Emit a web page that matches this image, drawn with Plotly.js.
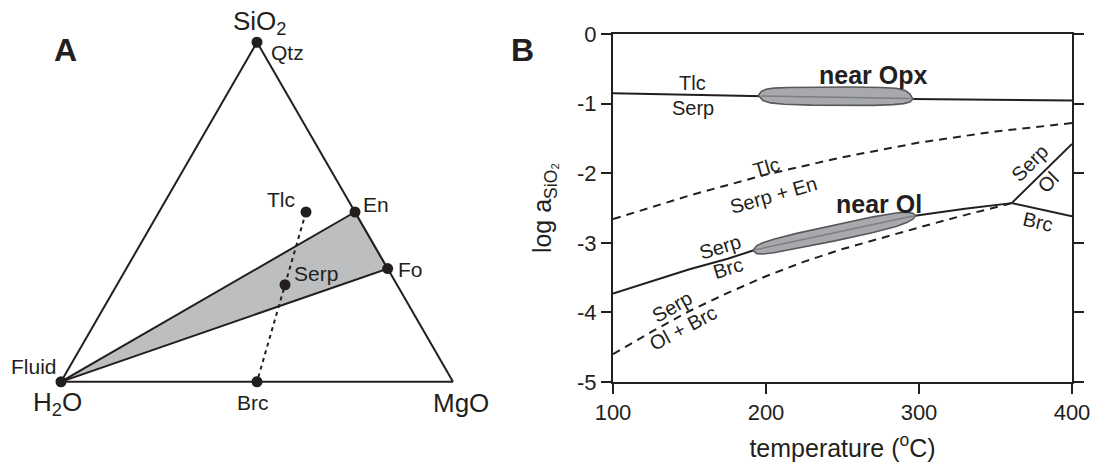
<!DOCTYPE html>
<html>
<head>
<meta charset="utf-8">
<script src="https://cdn.plot.ly/plotly-3.0.1.min.js"></script>
<style>
html,body{margin:0;padding:0;background:#ffffff;}
#chart{width:1099px;height:474px;}
</style>
</head>
<body>
<div id="chart"></div>
<script>
// ---------------- Panel A : ternary compositions (mole fractions) ----------------
const phaseNames = ['Qtz', 'En', 'Fo', 'Tlc', 'Serp', 'Brc', 'Fluid'];
const phaseSiO2  = [1, 0.5, 0.3333, 0.5, 0.2857, 0, 0];
const phaseH2O   = [0, 0, 0, 0.125, 0.2857, 0.5, 1];
const phaseMgO   = [0, 0.5, 0.6667, 0.375, 0.4286, 0.5, 0];
const fieldPhases   = ['Fluid', 'En', 'Fo'];
const tieLinePhases = ['Tlc', 'Serp', 'Brc'];
const vertexTitles  = ['SiO<sub>2</sub>', 'H<sub>2</sub>O', 'MgO'];

// ---------------- Panel B : log aSiO2 vs temperature ----------------
const tempTicks = [100, 200, 300, 400];
const logATicks = [0, -1, -2, -3, -4, -5];

// Tlc / Serp (solid)
const tlcSerpT    = [100, 195, 295, 400];
const tlcSerpLogA = [-0.85, -0.89, -0.935, -0.955];
// Tlc / Serp + En (dashed)
const tlcSerpEnT    = [100, 150, 200, 250, 300, 350, 400];
const tlcSerpEnLogA = [-2.66, -2.32, -2.02, -1.77, -1.56, -1.40, -1.28];
// Serp / Brc (solid)
const serpBrcT    = [100, 125, 150, 175, 191.5, 297.4, 330, 360.6];
const serpBrcLogA = [-3.73, -3.55, -3.38, -3.23, -3.11, -2.61, -2.51, -2.43];
// Serp / Ol + Brc (dashed)
const serpOlBrcT    = [100, 125, 150, 175, 200, 225, 250, 275, 300, 325, 350, 360.6];
const serpOlBrcLogA = [-4.60, -4.28, -3.98, -3.72, -3.48, -3.27, -3.09, -2.93, -2.78, -2.63, -2.49, -2.43];
// Serp / Ol (solid)
const serpOlT    = [360.6, 400];
const serpOlLogA = [-2.43, -1.58];
// Ol / Brc (solid)
const olBrcT    = [360.6, 400];
const olBrcLogA = [-2.43, -2.62];

// "near Opx" field outline and axis
const opxFieldT    = [195, 197, 200, 205, 215, 235, 255, 275, 285, 291, 294, 296, 294, 290, 283, 270, 250, 230, 212, 203, 198, 195];
const opxFieldLogA = [-0.88, -0.825, -0.795, -0.778, -0.768, -0.762, -0.762, -0.768, -0.78, -0.81, -0.86, -0.935, -0.978, -1.0, -1.015, -1.025, -1.028, -1.022, -1.01, -0.99, -0.955, -0.88];
const opxAxisT    = [197, 294];
const opxAxisLogA = [-0.89, -0.925];

// "near Ol" field outline and axis
const olFieldT    = [191.5, 194, 198, 205, 220, 245, 270, 285, 292, 296, 297.8, 296, 292, 285, 270, 245, 220, 205, 198, 194, 191.5];
const olFieldLogA = [-3.11, -3.04, -2.998, -2.948, -2.865, -2.742, -2.627, -2.572, -2.560, -2.575, -2.61, -2.66, -2.71, -2.765, -2.851, -2.972, -3.085, -3.144, -3.160, -3.156, -3.11];
const olAxisT    = [193, 296];
const olAxisLogA = [-3.10, -2.615];

// Reaction labels (text, temperature, log a, angle, bold)
const rxnLabelText  = ['Tlc', 'Serp', 'Tlc', 'Serp + En', 'Serp', 'Brc', 'Serp', 'Ol + Brc', 'Serp', 'Ol', 'Brc', 'near Opx', 'near Ol'];
const rxnLabelT     = [152, 152, 200.5, 205, 170, 175.4, 138.3, 146, 372.5, 384.5, 378, 270, 274];
const rxnLabelLogA  = [-0.70, -1.07, -1.91, -2.32, -3.06, -3.36, -3.92, -4.23, -1.86, -2.125, -2.70, -0.59, -2.44];
const rxnLabelAngle = [0, 0, -16, -16, -17, -17, -30, -28, -45, -45, 13, 0, 0];
const rxnLabelBold  = [false, false, false, false, false, false, false, false, false, false, false, true, true];

// ------------------------------------------------------------------
const INK = '#231f20';
const FONT = 'Liberation Sans, Arial, Helvetica, sans-serif';
const W = 1099, H = 474;
const idx = n => phaseNames.indexOf(n);
const pick = (arr, names) => names.map(n => arr[idx(n)]);

// label placement for panel A (pixel centres on the page)
const phaseLabelPx = {
  'Qtz': [287, 52], 'En': [376, 204], 'Fo': [410, 269], 'Tlc': [281, 199],
  'Serp': [316, 273], 'Brc': [253, 402], 'Fluid': [34, 366]
};
const vertexTitlePx = [[259, 23], [57, 403], [461, 403]];

const traces = [];

// shaded field Fluid-En-Fo
const fp = fieldPhases.concat([fieldPhases[0]]);
traces.push({
  type: 'scatterternary', mode: 'lines',
  a: pick(phaseSiO2, fp), b: pick(phaseH2O, fp), c: pick(phaseMgO, fp),
  fill: 'toself', fillcolor: '#bcbec0',
  line: {color: INK, width: 2}, hoverinfo: 'skip', cliponaxis: false
});
// dotted tie line Tlc-Serp-Brc
traces.push({
  type: 'scatterternary', mode: 'lines',
  a: pick(phaseSiO2, tieLinePhases), b: pick(phaseH2O, tieLinePhases), c: pick(phaseMgO, tieLinePhases),
  line: {color: INK, width: 2, dash: '4px,4px'}, hoverinfo: 'skip'
});
// phase points
traces.push({
  type: 'scatterternary', mode: 'markers',
  a: phaseSiO2, b: phaseH2O, c: phaseMgO,
  text: phaseNames,
  marker: {color: INK, size: 11},
  cliponaxis: false, hoverinfo: 'text'
});

// ---- Panel B traces
function line(x, y, dash, color, width) {
  return {type: 'scatter', mode: 'lines', x: x, y: y, xaxis: 'x', yaxis: 'y',
          line: {color: color || INK, width: width || 2, dash: dash || 'solid'}, hoverinfo: 'skip'};
}
traces.push(line(tlcSerpT, tlcSerpLogA));
traces.push(line(tlcSerpEnT, tlcSerpEnLogA, '8px,6px'));
traces.push(line(serpBrcT, serpBrcLogA));
traces.push(line(serpOlBrcT, serpOlBrcLogA, '8px,6px'));
traces.push(line(serpOlT, serpOlLogA));
traces.push(line(olBrcT, olBrcLogA));
// fields
[[opxFieldT, opxFieldLogA], [olFieldT, olFieldLogA]].forEach(f => {
  traces.push({type: 'scatter', mode: 'lines', x: f[0], y: f[1], xaxis: 'x', yaxis: 'y',
    fill: 'toself', fillcolor: '#a7a9ac', line: {color: '#58595b', width: 1.6}, hoverinfo: 'skip'});
});
traces.push(line(opxAxisT, opxAxisLogA, 'solid', '#7d7e80', 1.5));
traces.push(line(olAxisT, olAxisLogA, 'solid', '#7d7e80', 1.5));

const annotations = rxnLabelText.map((t, i) => ({
  xref: 'x', yref: 'y', x: rxnLabelT[i], y: rxnLabelLogA[i],
  text: rxnLabelBold[i] ? '<b>' + t + '</b>' : t,
  textangle: rxnLabelAngle[i], showarrow: false,
  xanchor: 'center', yanchor: 'middle',
  font: {family: FONT, size: rxnLabelBold[i] ? 25 : 20, color: INK}
}));
phaseNames.forEach(n => {
  const p = phaseLabelPx[n];
  annotations.push({xref: 'paper', yref: 'paper', x: p[0] / W, y: 1 - p[1] / H, text: n,
    showarrow: false, xanchor: 'center', yanchor: 'middle', font: {family: FONT, size: 21, color: INK}});
});
vertexTitles.forEach((t, i) => {
  const p = vertexTitlePx[i];
  annotations.push({xref: 'paper', yref: 'paper', x: p[0] / W, y: 1 - p[1] / H, text: t,
    showarrow: false, xanchor: 'center', yanchor: 'middle', font: {family: FONT, size: 26, color: INK}});
});
annotations.push({xref: 'paper', yref: 'paper', x: 65 / W, y: 1 - 50 / H, text: '<b>A</b>',
  showarrow: false, xanchor: 'center', yanchor: 'middle', font: {family: FONT, size: 32, color: INK}});
annotations.push({xref: 'paper', yref: 'paper', x: 522 / W, y: 1 - 50 / H, text: '<b>B</b>',
  showarrow: false, xanchor: 'center', yanchor: 'middle', font: {family: FONT, size: 32, color: INK}});

const ternAxis = () => ({
  title: {text: ''},
  showline: true, linecolor: INK, linewidth: 2,
  showgrid: false, showticklabels: false, ticks: '', min: 0
});

const layout = {
  width: W, height: H,
  margin: {l: 0, r: 0, t: 0, b: 0, pad: 0},
  paper_bgcolor: '#ffffff', plot_bgcolor: '#ffffff',
  showlegend: false,
  font: {family: FONT, color: INK},
  ternary: {
    sum: 1,
    domain: {x: [61 / W, 453 / W], y: [1 - 382 / H, 1 - 42 / H]},
    bgcolor: '#ffffff',
    aaxis: ternAxis(), baxis: ternAxis(), caxis: ternAxis()
  },
  xaxis: {
    domain: [613 / W, 1072 / W], range: [100, 400],
    tickvals: tempTicks, ticktext: tempTicks.map(String),
    ticks: 'outside', ticklen: 10, tickwidth: 2, tickcolor: INK,
    showline: true, linewidth: 2, linecolor: INK, mirror: true,
    showgrid: false, zeroline: false, automargin: false,
    tickfont: {family: FONT, size: 22, color: INK},
    title: {text: 'temperature (<sup>o</sup>C)', font: {family: FONT, size: 25, color: INK}, standoff: 15},
    anchor: 'y'
  },
  yaxis: {
    domain: [1 - 382 / H, 1 - 34 / H], range: [-5, 0],
    tickvals: logATicks, ticktext: logATicks.map(String),
    ticks: 'outside', ticklen: 10, tickwidth: 2, tickcolor: INK,
    showline: true, linewidth: 2, linecolor: INK, mirror: 'ticks',
    showgrid: false, zeroline: false, automargin: false,
    tickfont: {family: FONT, size: 22, color: INK},
    title: {text: 'log a<sub>SiO₂</sub>', font: {family: FONT, size: 25, color: INK}, standoff: 18},
    anchor: 'x'
  },
  annotations: annotations
};

Plotly.newPlot('chart', traces, layout, {staticPlot: true, displayModeBar: false});
</script>
</body>
</html>
